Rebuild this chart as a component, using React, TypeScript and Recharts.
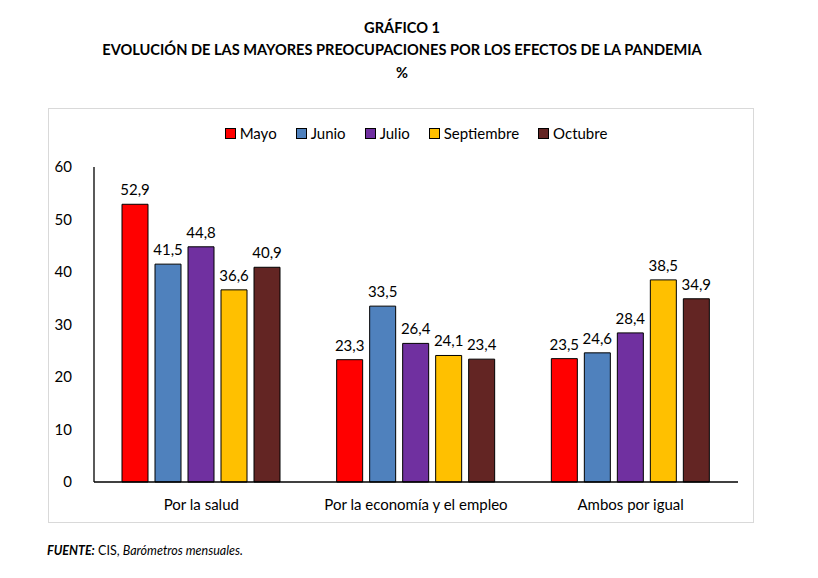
import React from "react";
import { BarChart, Bar, XAxis, YAxis, LabelList, Legend } from "recharts";

const categories = ["Por la salud", "Por la economía y el empleo", "Ambos por igual"];
const mayo = [52.9, 23.3, 23.5];
const junio = [41.5, 33.5, 24.6];
const julio = [44.8, 26.4, 28.4];
const septiembre = [36.6, 24.1, 38.5];
const octubre = [40.9, 23.4, 34.9];
const yTicks = [0, 10, 20, 30, 40, 50, 60];

const seriesDefs = [
  { key: "Mayo", values: mayo, color: "#FF0000" },
  { key: "Junio", values: junio, color: "#4F81BD" },
  { key: "Julio", values: julio, color: "#7030A0" },
  { key: "Septiembre", values: septiembre, color: "#FFC000" },
  { key: "Octubre", values: octubre, color: "#632523" },
];

const data = categories.map((c, i) => {
  const row: any = { name: c };
  seriesDefs.forEach((s) => (row[s.key] = s.values[i]));
  return row;
});

const FONT = "Lato, 'Liberation Sans', sans-serif";

const fmt = (v: any) => String(v).replace(".", ",");

const renderLegend = () => (
  <div style={{ display: "flex", justifyContent: "center", fontFamily: FONT, fontSize: 15, color: "#000", paddingLeft: 28, height: 18, lineHeight: "18px" }}>
    {seriesDefs.map((s) => (
      <div key={s.key} style={{ display: "flex", alignItems: "center", margin: "0 9.5px" }}>
        <span style={{ display: "inline-block", width: 9, height: 9, background: s.color, border: "1px solid #000", marginRight: 4 }} />
        <span>{s.key}</span>
      </div>
    ))}
  </div>
);

export default function App() {
  return (
    <div style={{ position: "absolute", left: 0, top: 0, width: 818, height: 578, background: "#fff", fontFamily: FONT }}>
      <div style={{ position: "absolute", left: 0, width: 804, top: 17, textAlign: "center", fontWeight: 700, fontSize: 14.6, lineHeight: "22px", color: "#000" }}>
        <div>GRÁFICO 1</div>
        <div>EVOLUCIÓN DE LAS MAYORES PREOCUPACIONES POR LOS EFECTOS DE LA PANDEMIA</div>
        <div style={{ marginTop: 1 }}>%</div>
      </div>
      <div style={{ position: "absolute", left: 48, top: 108, width: 706, height: 415, border: "1px solid #D9D9D9", boxSizing: "border-box" }}>
        <BarChart
          width={706}
          height={415}
          data={data}
          margin={{ top: 40, right: 17, left: 0, bottom: 0 }}
          barGap={7}
          barSize={26}
        >
          <Legend content={renderLegend} verticalAlign="top" height={18} wrapperStyle={{ top: 15, left: 0, width: 706 }} />
          <YAxis
            domain={[0, 60]}
            ticks={yTicks}
            width={45}
            axisLine={{ stroke: "#000", strokeWidth: 1.3 }}
            tickLine={false}
            tickMargin={16}
            tick={{ fontFamily: FONT, fontSize: 15, fill: "#000" }}
            interval={0}
          />
          <XAxis
            dataKey="name"
            height={42}
            axisLine={{ stroke: "#000", strokeWidth: 1.3 }}
            tickLine={false}
            tickMargin={11}
            tick={{ fontFamily: FONT, fontSize: 15, fill: "#000" }}
            interval={0}
          />
          {seriesDefs.map((s) => (
            <Bar key={s.key} dataKey={s.key} fill={s.color} stroke="#000" strokeWidth={1} isAnimationActive={false}>
              <LabelList dataKey={s.key} position="top" offset={9} formatter={fmt} style={{ fontFamily: FONT, fontSize: 15, fill: "#000" }} />
            </Bar>
          ))}
        </BarChart>
      </div>
      <div style={{ position: "absolute", left: 47, top: 543, fontSize: 12.5, color: "#000" }}>
        <span style={{ fontWeight: 700, fontStyle: "italic" }}>FUENTE:</span> CIS, <span style={{ fontStyle: "italic" }}>Barómetros mensuales.</span>
      </div>
    </div>
  );
}
